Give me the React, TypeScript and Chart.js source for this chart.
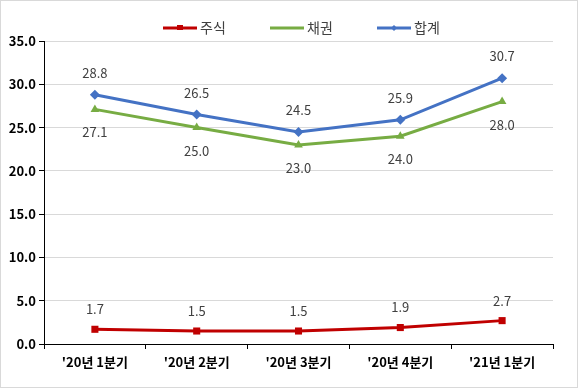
import React, { useEffect, useRef } from "react";
import { Chart, registerables } from "chart.js";

Chart.register(...registerables);

const categories = ["'20년 1분기", "'20년 2분기", "'20년 3분기", "'20년 4분기", "'21년 1분기"];
const stockValues = [1.7, 1.5, 1.5, 1.9, 2.7];
const bondValues = [27.1, 25.0, 23.0, 24.0, 28.0];
const totalValues = [28.8, 26.5, 24.5, 25.9, 30.7];
const seriesNames = ["주식", "채권", "합계"];

const RED = "#C00000";
const GREEN = "#77AC43";
const BLUE = "#4472C4";
const FONT = "'Noto Sans CJK KR', 'Noto Sans', sans-serif";

const labelPlugin = {
  id: "valueLabels",
  afterDatasetsDraw(chart: any) {
    const ctx = chart.ctx;
    ctx.save();
    ctx.font = `13px ${FONT}`;
    ctx.fillStyle = "#404040";
    ctx.textAlign = "center";
    ctx.textBaseline = "middle";
    const offsets = [-20, 23, -22];
    chart.data.datasets.forEach((ds: any, i: number) => {
      const meta = chart.getDatasetMeta(i);
      meta.data.forEach((pt: any, j: number) => {
        ctx.fillText(Number(ds.data[j]).toFixed(1), pt.x, pt.y + offsets[i]);
      });
    });
    ctx.restore();
  },
};

const legendPlugin = {
  id: "customLegend",
  afterDraw(chart: any) {
    const ctx = chart.ctx;
    ctx.save();
    const items = [
      { name: seriesNames[0], color: RED, x: 163, style: "rect" },
      { name: seriesNames[1], color: GREEN, x: 270, style: "none" },
      { name: seriesNames[2], color: BLUE, x: 377, style: "diamond" },
    ];
    const y = 28;
    items.forEach((it) => {
      ctx.strokeStyle = it.color;
      ctx.lineWidth = 3;
      ctx.beginPath();
      ctx.moveTo(it.x, y);
      ctx.lineTo(it.x + 34, y);
      ctx.stroke();
      ctx.fillStyle = it.color;
      if (it.style === "rect") {
        ctx.fillRect(it.x + 14, y - 3, 6, 5);
      } else if (it.style === "diamond") {
        ctx.beginPath();
        ctx.moveTo(it.x + 17, y - 3);
        ctx.lineTo(it.x + 20, y);
        ctx.lineTo(it.x + 17, y + 3);
        ctx.lineTo(it.x + 14, y);
        ctx.closePath();
        ctx.fill();
      }
      ctx.fillStyle = "#404040";
      ctx.font = `14px ${FONT}`;
      ctx.textAlign = "left";
      ctx.textBaseline = "middle";
      ctx.fillText(it.name, it.x + 37, y);
    });
    ctx.strokeStyle = "#d9d9d9";
    ctx.lineWidth = 1;
    ctx.strokeRect(0.5, 0.5, chart.width - 3, chart.height - 3);
    ctx.restore();
  },
};

export default function App() {
  const ref = useRef<HTMLCanvasElement>(null);
  useEffect(() => {
    if (!ref.current) return;
    const chart = new Chart(ref.current, {
      type: "line",
      data: {
        labels: categories,
        datasets: [
          {
            label: seriesNames[0],
            data: stockValues,
            borderColor: RED,
            backgroundColor: RED,
            borderWidth: 3,
            pointStyle: "rect",
            pointRadius: 5,
            pointBorderWidth: 0,
          },
          {
            label: seriesNames[1],
            data: bondValues,
            borderColor: GREEN,
            backgroundColor: GREEN,
            borderWidth: 3,
            pointStyle: "triangle",
            pointRadius: 5,
            pointBorderWidth: 0,
          },
          {
            label: seriesNames[2],
            data: totalValues,
            borderColor: BLUE,
            backgroundColor: BLUE,
            borderWidth: 3,
            pointStyle: "rectRot",
            pointRadius: 5,
            pointBorderWidth: 0,
          },
        ],
      },
      options: {
        animation: false,
        responsive: false,
        maintainAspectRatio: false,
        layout: { padding: { left: 0, right: 27, top: 41, bottom: 0 } },
        plugins: { legend: { display: false }, tooltip: { enabled: false } },
        scales: {
          x: {
            offset: true,
            grid: {
              offset: true,
              drawOnChartArea: false,
              drawTicks: true,
              tickLength: 5,
              tickColor: "#000",
            },
            border: { display: true, color: "#000", width: 1 },
            ticks: {
              color: "#000",
              font: { family: FONT, size: 13, weight: "bold" },
              padding: 5,
              maxRotation: 0,
            },
            afterFit: (s: any) => {
              s.height = 46;
            },
          },
          y: {
            min: 0,
            max: 35,
            ticks: {
              stepSize: 5,
              color: "#000",
              font: { family: FONT, size: 13, weight: "bold" },
              padding: 3,
              callback: (v: any) => Number(v).toFixed(1),
            },
            grid: { color: "#d9d9d9", tickColor: "#000", tickLength: 5 },
            border: { display: true, color: "#000", width: 1 },
            afterFit: (s: any) => {
              s.width = 44;
            },
          },
        },
      },
      plugins: [labelPlugin, legendPlugin],
    });
    return () => chart.destroy();
  }, []);
  return (
    <div style={{ position: "fixed", left: 0, top: 0, width: 580, height: 390, background: "#fff" }}>
      <canvas ref={ref} width={580} height={390} style={{ width: 580, height: 390 }} />
    </div>
  );
}
